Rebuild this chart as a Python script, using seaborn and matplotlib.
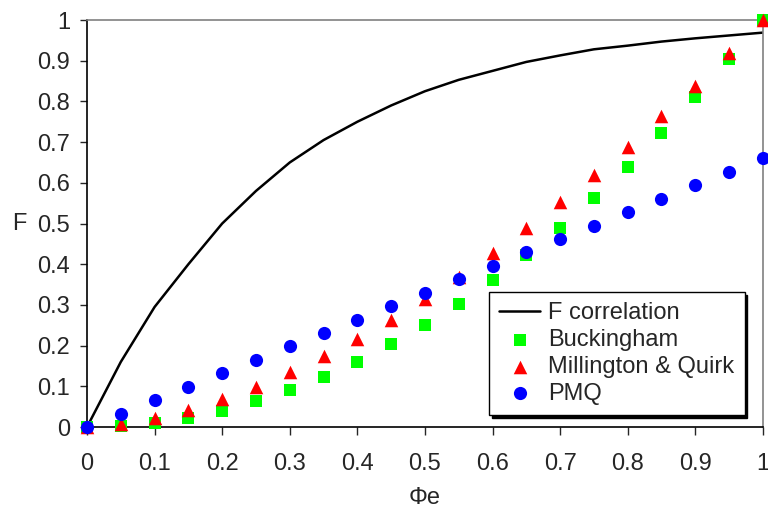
import numpy as np
import pandas as pd
import seaborn as sns
import matplotlib.pyplot as plt

# valores
phi_e = [0.0, 0.05, 0.1, 0.15, 0.2, 0.25, 0.3, 0.35, 0.4, 0.45, 0.5,
         0.55, 0.6, 0.65, 0.7, 0.75, 0.8, 0.85, 0.9, 0.95, 1.0]
f_correlation = [0.0, 0.16, 0.295, 0.40, 0.50, 0.58, 0.65, 0.705, 0.75, 0.79, 0.825,
                 0.853, 0.875, 0.897, 0.913, 0.928, 0.937, 0.947, 0.955, 0.962, 0.969]
buckingham = [0.0, 0.003, 0.01, 0.023, 0.04, 0.063, 0.09, 0.123, 0.16, 0.203, 0.25,
              0.303, 0.36, 0.423, 0.49, 0.563, 0.64, 0.723, 0.81, 0.903, 1.0]
millington_quirk = [0.0, 0.007, 0.022, 0.042, 0.068, 0.099, 0.134, 0.174, 0.217, 0.264, 0.315,
                    0.369, 0.427, 0.488, 0.552, 0.619, 0.689, 0.763, 0.839, 0.918, 1.0]
pmq = [0.0, 0.033, 0.066, 0.099, 0.132, 0.165, 0.198, 0.231, 0.264, 0.297, 0.33,
       0.363, 0.396, 0.429, 0.462, 0.495, 0.528, 0.561, 0.594, 0.627, 0.66]

xticks = [0, 0.1, 0.2, 0.3, 0.4, 0.5, 0.6, 0.7, 0.8, 0.9, 1]
yticks = [0, 0.1, 0.2, 0.3, 0.4, 0.5, 0.6, 0.7, 0.8, 0.9, 1]
tick_labels = ['0', '0.1', '0.2', '0.3', '0.4', '0.5', '0.6', '0.7', '0.8', '0.9', '1']

datos = pd.DataFrame({'phi': phi_e, 'F correlation': f_correlation,
                      'Buckingham': buckingham, 'Millington & Quirk': millington_quirk,
                      'PMQ': pmq})

sns.set_style('white')
plt.rcParams['font.family'] = ['Liberation Sans', 'DejaVu Sans']

fig = plt.figure(figsize=(7.68, 5.13), dpi=100)
ax = fig.add_axes([0.1133, 0.1676, 0.880, 0.7934])

sns.lineplot(data=datos, x='phi', y='F correlation', color='black', linewidth=1.8,
             label='F correlation', ax=ax)
sns.scatterplot(data=datos, x='phi', y='Buckingham', marker='s', color='#00ff00',
                s=80, linewidth=0, label='Buckingham', clip_on=False, zorder=3, ax=ax)
sns.scatterplot(data=datos, x='phi', y='Millington & Quirk', marker='^', color='#ff0000',
                s=95, linewidth=0, label='Millington & Quirk', clip_on=False, zorder=4, ax=ax)
sns.scatterplot(data=datos, x='phi', y='PMQ', marker='o', color='#0000ff',
                s=90, linewidth=0, label='PMQ', clip_on=False, zorder=5, ax=ax)

ax.set_xlim(0, 1)
ax.set_ylim(0, 1)
ax.set_xticks(xticks)
ax.set_xticklabels(tick_labels)
ax.set_yticks(yticks)
ax.set_yticklabels(tick_labels)
ax.tick_params(axis='x', direction='out', length=6, width=1, pad=13, labelsize=17, bottom=True)
ax.tick_params(axis='y', direction='out', length=5, width=1, pad=7, labelsize=17, left=True)

for lado in ['left', 'bottom']:
    ax.spines[lado].set_color('black')
    ax.spines[lado].set_linewidth(1.2)
for lado in ['top', 'right']:
    ax.spines[lado].set_color('#808080')
    ax.spines[lado].set_linewidth(1.2)

ax.set_xlabel('Φe', fontsize=17, va='top')
ax.set_ylabel('F', fontsize=17, rotation=0, ha='center', va='center')
ax.xaxis.set_label_coords(0.5, -0.147)
ax.yaxis.set_label_coords(-0.1, 0.5)

leg = ax.legend(loc='lower right', bbox_to_anchor=(0.973, 0.029), borderaxespad=0,
                fontsize=17, frameon=True, fancybox=False, handlelength=1.7,
                labelspacing=0.2, borderpad=0.45, handletextpad=0.35,
                shadow={'facecolor': 'black', 'edgecolor': 'black', 'alpha': 1})
leg.get_frame().set_edgecolor('black')
leg.get_frame().set_linewidth(1.0)
leg.get_frame().set_alpha(1)

fig.savefig('out.png', dpi=100)
